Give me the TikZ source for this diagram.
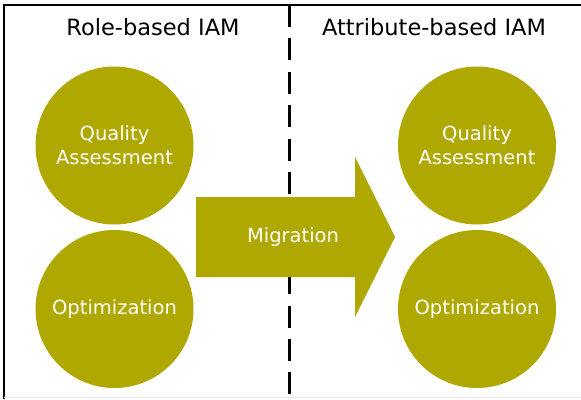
\documentclass[tikz,border=0pt]{standalone}
\usepackage{fontspec}
\setmainfont{DejaVu Sans}
\definecolor{olive}{RGB}{174,168,0}
\tikzstyle{blob}=[circle,fill=olive,minimum size=158pt,inner sep=0pt,align=center,text=white,font=\fontsize{19.5}{24}\selectfont]
\tikzstyle{heading}=[font=\fontsize{22.5}{26}\selectfont]
\tikzstyle{divider}=[line width=2.8pt,dash pattern=on 22pt off 11.4pt]

\begin{document}
\begin{tikzpicture}[x=1pt,y=-1pt]
\useasboundingbox (0,0) rectangle (581,399);

\draw[line width=1.6pt] (4,399) -- (4,5) -- (581,5);
\draw[black!10,line width=1pt] (4,397.5) -- (581,397.5);

\draw[divider] (289.7,5) -- (289.7,399);

\node[heading] (rbac) at (153,27) {Role-based IAM};
\node[heading] (abac) at (434,27) {Attribute-based IAM};

\node[blob] (qa_left) at (114.5,145.5) {Quality\\Assessment};
\node[blob] (opt_left) at (114.5,309) {Optimization};
\node[blob] (qa_right) at (477,145.5) {Quality\\Assessment};
\node[blob] (opt_right) at (477,309) {Optimization};

\fill[olive] (196,197) -- (355,197) -- (355,157) -- (395,237)
      -- (355,317) -- (355,277) -- (196,277) -- cycle;
\node[text=white,font=\fontsize{19.5}{24}\selectfont] (migration) at (293,237) {Migration};
\end{tikzpicture}
\end{document}
